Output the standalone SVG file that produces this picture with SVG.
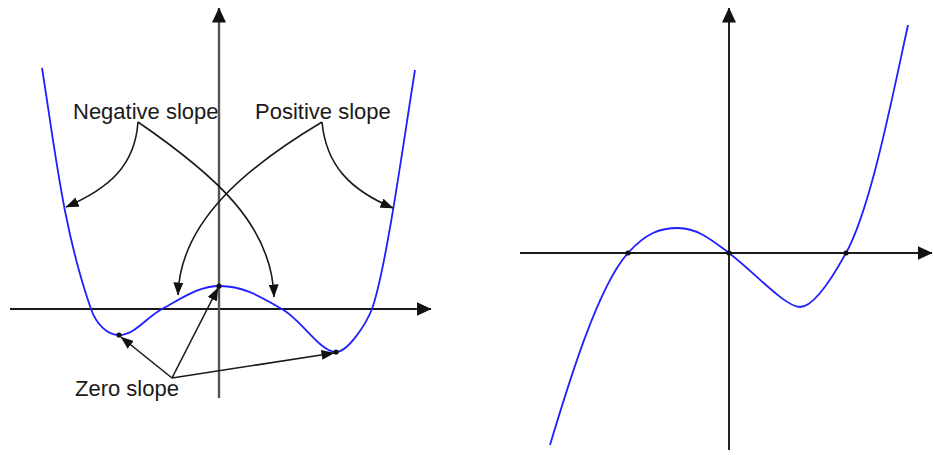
<svg xmlns="http://www.w3.org/2000/svg" width="933" height="455" viewBox="0 0 933 455">
<style>
.axis{stroke:#1a1a1a;stroke-width:1.9;fill:none}
.axisv{stroke:#555;stroke-width:2.4;fill:none}
.curve{stroke:#1f1fff;stroke-width:1.8;fill:none}
.conn{stroke:#1a1a1a;stroke-width:1.6;fill:none}
.lbl{font-family:"Liberation Sans",Arial,sans-serif;font-size:22px;fill:#1a1a1a}
.dot{fill:#111}
</style>
<defs>
<marker id="ah" viewBox="0 0 13 10" refX="12.5" refY="5" markerWidth="13" markerHeight="10" markerUnits="userSpaceOnUse" orient="auto">
<path d="M0,0 L13,5 L0,10 z" fill="#111"/>
</marker>
<marker id="axh" viewBox="0 0 15 14" refX="14.5" refY="7" markerWidth="15" markerHeight="14" markerUnits="userSpaceOnUse" orient="auto">
<path d="M0,0 L15,7 L0,14 z" fill="#111"/>
</marker>
</defs>
<rect width="933" height="455" fill="#fff"/>
<g id="left-axes">
<path class="axis" d="M10,309 L431,309" marker-end="url(#axh)"/>
<path class="axisv" d="M219,398 L219,8" marker-end="url(#axh)"/>
</g>
<g id="left-curve">
<path class="curve" d="M42,68 C54.8,148 63,229 91,309 C96.3,324 107,335 119,335 C135,335 146,317.6 162,309 C182,298.2 198,286 220,286 C244,286 262,297.6 282,309 C302,320.4 320,352 336,352 C348,352 366,324 372,309 C386,269 402.2,150 415,70"/>
<circle class="dot" cx="119" cy="335" r="2.6"/>
<circle class="dot" cx="219" cy="286" r="2.6"/>
<circle class="dot" cx="336" cy="352" r="2.6"/>
</g>
<g id="label-negative"><text class="lbl" x="73" y="119">Negative slope</text></g>
<g id="label-positive"><text class="lbl" x="255" y="119">Positive slope</text></g>
<g id="label-zero"><text class="lbl" x="75" y="396">Zero slope</text></g>
<g id="connectors">
<path class="conn" d="M138,122 C135,165 110,188 66,207" marker-end="url(#ah)"/>
<path class="conn" d="M138,122 C215,175 272,225 274,297" marker-end="url(#ah)"/>
<path class="conn" d="M322,122 C326,165 350,190 393,208" marker-end="url(#ah)"/>
<path class="conn" d="M322,122 C250,165 180,220 178,295" marker-end="url(#ah)"/>
<path class="conn" d="M172,378 L121,337" marker-end="url(#ah)"/>
<path class="conn" d="M172,378 L218,288" marker-end="url(#ah)"/>
<path class="conn" d="M172,378 L334,353" marker-end="url(#ah)"/>
</g>
<g id="right-axes">
<path class="axis" d="M520,253 L932,253" marker-end="url(#axh)"/>
<path class="axis" d="M729,450 L729,8" marker-end="url(#axh)"/>
</g>
<g id="right-curve">
<path class="curve" d="M550,445 C568,385 598,286 628,253 C646,233 660,228 678,228 C698,228 713,241 729,253 C754,272 785,307 800,307 C815,307 835,273 846,253 C871,208 892.6,95 908,25"/>
<circle class="dot" cx="628" cy="253" r="2.6"/>
<circle class="dot" cx="729" cy="253" r="2.6"/>
<circle class="dot" cx="846" cy="253" r="2.6"/>
</g>
</svg>
